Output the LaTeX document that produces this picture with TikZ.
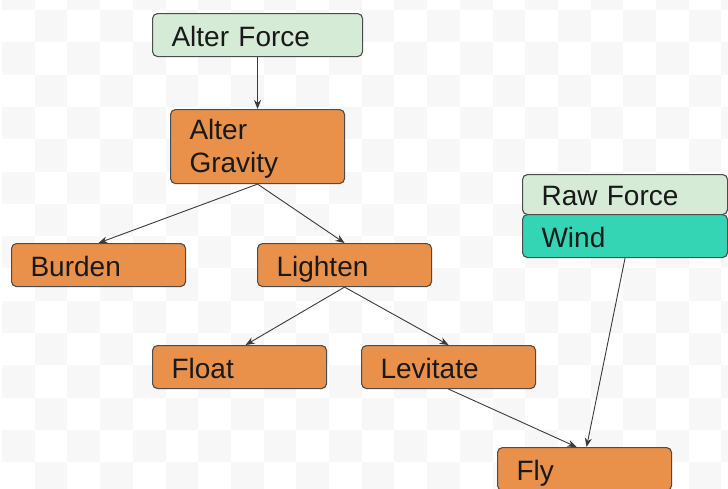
\documentclass[tikz,border=0pt]{standalone}
\usepackage{fontspec}
\setmainfont{Liberation Sans}
\usepackage{xcolor}
\usepackage{tikz}
\usetikzlibrary{arrows.meta}

\definecolor{skillorange}{HTML}{E9914B}
\definecolor{forcegreen}{HTML}{D5EBD6}
\definecolor{windteal}{HTML}{33D5B5}
\definecolor{linegray}{HTML}{3A3A3A}

\begin{document}
\begin{tikzpicture}[x=1pt,y=-1pt,->,>={Stealth[length=9pt,width=7pt]},thin,
    box/.style={rectangle,rounded corners=5pt,draw=black!70,line width=1.1pt,anchor=north west,
      inner xsep=19pt,inner ysep=0pt,minimum height=43pt,align=left,text=black!90,
      text height=24pt,text depth=2pt,font=\fontsize{28}{33}\selectfont},
    skill/.style={box,fill=skillorange,text width=136pt},
    rawforce/.style={box,fill=forcegreen,text width=#1},
    element/.style={box,fill=windteal,text width=#1}]
    \path[clip,use as bounding box] (0,0) rectangle (728,488);
    \fill[white] (0,0) rectangle (728,488);
    \foreach \i in {0,...,22}{\foreach \j in {0,...,15}{
      \pgfmathtruncatemacro\k{mod(\i+\j,2)}
      \ifnum\k=0 \fill[black!3] (\i*32.7+2,\j*32.3-22.3) rectangle +(32.7,32.3);\fi}}

    \node[rawforce=172pt] (1) at (152,13) {Alter Force};
    \node[skill,minimum height=74pt,text depth=38pt] (2) at (170,109) {Alter\\Gravity};
    \node[skill] (3) at (11,243) {Burden};
    \node[skill] (4) at (257,243) {Lighten};
    \node[skill] (5) at (152,345) {Float};
    \node[skill] (6) at (361,345) {Levitate};
    \node[rawforce=167pt,minimum height=40pt] (7) at (522,174) {Raw Force};
    \node[element=167pt] (8) at (522,214) {Wind};
    \node[skill] (9) at (497,447) {Fly};

    \path[every edge/.style={draw=linegray,line width=0.9pt}]
      (1.south) edge (2.north)
      (2.south) edge (3.north)
      (2.south) edge (4.north)
      (4.south) edge ([xshift=6pt]5.north)
      (4.south) edge (6.north)
      (6.south) edge ([xshift=-8pt]9.north)
      (8.south) edge ([xshift=2pt]9.north);
\end{tikzpicture}
\end{document}
